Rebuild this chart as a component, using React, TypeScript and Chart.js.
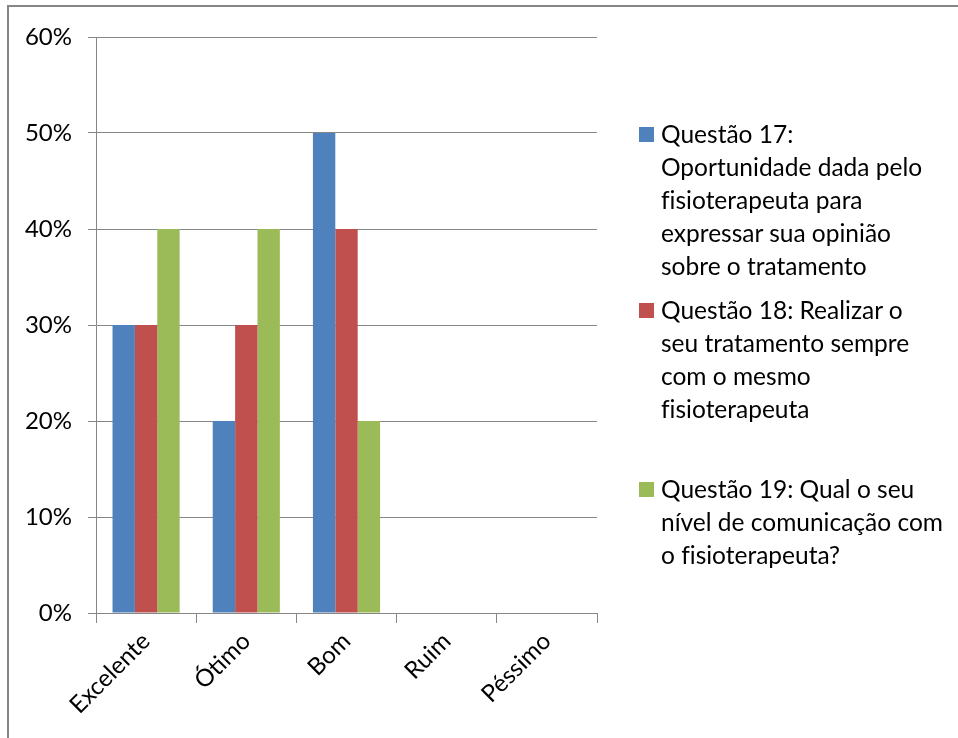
import React, { useEffect, useRef } from "react";
import { Chart, registerables } from "chart.js";

Chart.register(...registerables);

const categories = ["Excelente", "Ótimo", "Bom", "Ruim", "Péssimo"];
const q17 = [30, 20, 50, 0, 0];
const q18 = [30, 30, 40, 0, 0];
const q19 = [40, 40, 20, 0, 0];
const yTicks = [0, 10, 20, 30, 40, 50, 60];
const seriesNames = [
  "Questão 17: Oportunidade dada pelo fisioterapeuta para expressar sua opinião sobre o tratamento",
  "Questão 18: Realizar o seu tratamento sempre com o mesmo fisioterapeuta",
  "Questão 19: Qual o seu nível de comunicação com o fisioterapeuta?",
];
const legendLines = [
  ["Questão 17:", "Oportunidade dada pelo", "fisioterapeuta para", "expressar sua opinião", "sobre o tratamento"],
  ["Questão 18: Realizar o", "seu tratamento sempre", "com o mesmo", "fisioterapeuta"],
  ["Questão 19: Qual o seu", "nível de comunicação com", "o fisioterapeuta?"],
];
const colors = ["#4F81BD", "#C0504D", "#9BBB59"];
const legendTops = [117, 293, 472];

const FONT = "Lato, 'Open Sans', sans-serif";
const GRID = "#868686";

export default function App() {
  const ref = useRef<HTMLCanvasElement | null>(null);
  useEffect(() => {
    if (!ref.current) return;
    const chart = new Chart(ref.current, {
      type: "bar",
      data: {
        labels: categories,
        datasets: [q17, q18, q19].map((d, i) => ({
          label: seriesNames[i],
          data: d,
          backgroundColor: colors[i],
          borderWidth: 0,
          categoryPercentage: 0.67,
          barPercentage: 1,
        })),
      },
      options: {
        responsive: false,
        animation: false,
        layout: { padding: { left: 10, top: 37, right: 361, bottom: 0 } },
        plugins: { legend: { display: false }, tooltip: { enabled: false } },
        scales: {
          x: {
            offset: true,
            grid: {
              display: true,
              drawOnChartArea: false,
              drawTicks: true,
              tickLength: 10,
              offset: true,
              color: GRID,
            },
            border: { display: true, color: GRID },
            ticks: {
              color: "#000",
              font: { family: FONT, size: 24 },
              minRotation: 45,
              maxRotation: 45,
              padding: 4,
            },
            afterFit: (s: any) => {
              s.height = 125;
            },
          },
          y: {
            min: 0,
            max: 60,
            afterBuildTicks: (s: any) => {
              s.ticks = yTicks.map((v) => ({ value: v }));
            },
            grid: { color: GRID, tickLength: 8, drawTicks: true },
            border: { display: true, color: GRID },
            ticks: {
              color: "#000",
              font: { family: FONT, size: 24 },
              padding: 16,
              callback: (v: any) => v + "%",
            },
            afterFit: (s: any) => {
              s.width = 86;
            },
          },
        },
      },
    });
    return () => chart.destroy();
  }, []);

  return (
    <div style={{ position: "absolute", left: 0, top: 0, width: 958, height: 738, background: "#fff", overflow: "hidden" }}>
      <div
        style={{
          position: "absolute",
          left: 7,
          top: 5,
          width: 960,
          height: 740,
          borderLeft: `2px solid ${GRID}`,
          borderTop: `2px solid ${GRID}`,
        }}
      />
      <canvas ref={ref} width={958} height={738} style={{ position: "absolute", left: 0, top: 0 }} />
      {legendLines.map((lines, i) => (
        <div
          key={i}
          style={{
            position: "absolute",
            left: 639,
            top: legendTops[i],
            fontFamily: FONT,
            fontSize: 24.5,
            lineHeight: "33px",
            color: "#000",
            whiteSpace: "nowrap",
            fontVariantLigatures: "none",
            fontFeatureSettings: '"liga" 0',
          }}
        >
          <span
            style={{
              position: "absolute",
              left: 0,
              top: 10,
              width: 15,
              height: 15,
              background: colors[i],
            }}
          />
          <div style={{ marginLeft: 22 }}>
            {lines.map((l, j) => (
              <div key={j}>{l}</div>
            ))}
          </div>
        </div>
      ))}
    </div>
  );
}
